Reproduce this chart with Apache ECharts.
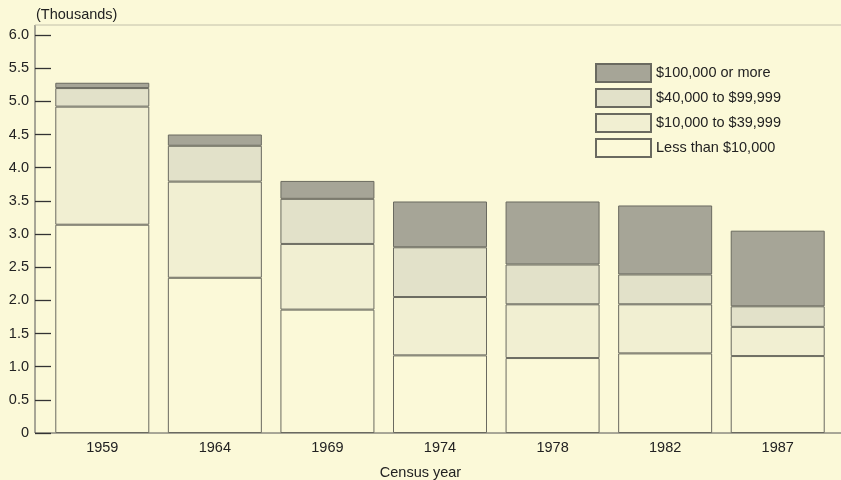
<!DOCTYPE html>
<html>
<head>
<meta charset="utf-8">
<script src="https://cdn.jsdelivr.net/npm/echarts@6/dist/echarts.min.js"></script>
<style>
html,body{margin:0;padding:0;background:#fbf9d8;}
#c{width:841px;height:480px;}
</style>
</head>
<body>
<div id="c"></div>
<script>
const categories = ['1959','1964','1969','1974','1978','1982','1987'];
const lessThan10k = [3.14, 2.34, 1.86, 1.17, 1.13, 1.20, 1.16];
const from10kTo40k = [1.78, 1.45, 0.99, 0.88, 0.81, 0.74, 0.44];
const from40kTo100k = [0.28, 0.54, 0.68, 0.75, 0.60, 0.45, 0.31];
const over100k = [0.08, 0.17, 0.27, 0.69, 0.95, 1.04, 1.14];
const seriesNames = ['Less than $10,000', '$10,000 to $39,999', '$40,000 to $99,999', '$100,000 or more'];

const chart = echarts.init(document.getElementById('c'));
const txt = '#222222';
const font = 'Liberation Sans, Arial, sans-serif';
const fills = ['#fbf9d8', '#f1efd2', '#e2e1c9', '#a6a597'];
const data = [lessThan10k, from10kTo40k, from40kTo100k, over100k];

chart.setOption({
  backgroundColor: '#fbf9d8',
  animation: false,
  textStyle: {fontFamily: font},
  grid: {left: 46, right: 7, top: 35, bottom: 47},
  legend: {
    orient: 'vertical', left: 595, top: 63, padding: 0,
    itemWidth: 55, itemHeight: 18, itemGap: 5,
    icon: 'rect',
    data: seriesNames.slice().reverse(),
    textStyle: {fontSize: 14.5, color: txt}
  },
  xAxis: {
    type: 'category', data: categories,
    axisLine: {show: false}, axisTick: {show: false},
    axisLabel: {fontSize: 14.5, color: txt, margin: 7}
  },
  yAxis: {
    type: 'value', min: 0, max: 6, interval: 0.5, offset: 11,
    axisLine: {show: false},
    axisTick: {show: true, inside: true, length: 16, lineStyle: {color: '#333', width: 1.3}},
    splitLine: {show: false},
    axisLabel: {fontSize: 14.5, color: txt, margin: 6,
      formatter: v => v === 0 ? '0' : v.toFixed(1)}
  },
  graphic: [
    {type: 'text', left: 36, top: 7, style: {text: '(Thousands)', fontSize: 14.5, fill: txt, fontFamily: font}},
    {type: 'text', left: 'center', top: 465, style: {text: 'Census year', fontSize: 14.5, fill: txt, fontFamily: font}},
    {type: 'line', shape: {x1: 35, y1: 433, x2: 841, y2: 433}, style: {stroke: '#555', lineWidth: 1}},
    {type: 'line', shape: {x1: 35, y1: 25, x2: 35, y2: 433}, style: {stroke: '#555', lineWidth: 1}},
    {type: 'line', shape: {x1: 35, y1: 25, x2: 841, y2: 25}, style: {stroke: '#c2c0aa', lineWidth: 1}}
  ],
  series: seriesNames.map((n, i) => ({
    name: n, type: 'bar', stack: 'all', barWidth: 94,
    data: data[i],
    itemStyle: {color: fills[i], borderColor: '#6a6a60', borderWidth: 1},
    emphasis: {disabled: true}
  }))
});
</script>
</body>
</html>
